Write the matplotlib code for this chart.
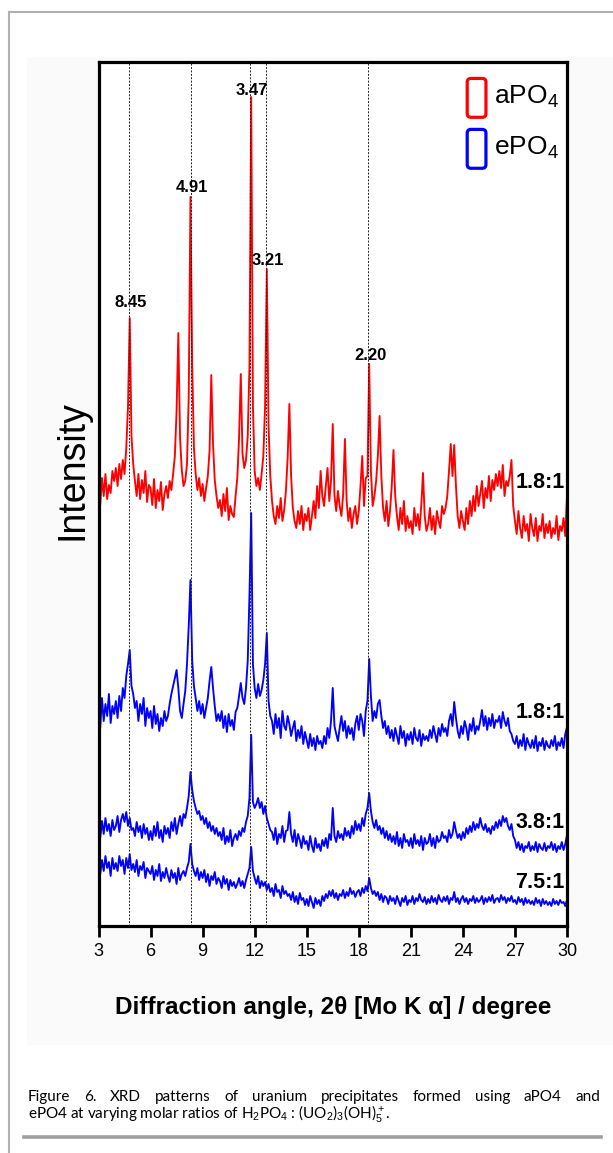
import numpy as np
import matplotlib
matplotlib.use('Agg')
from matplotlib import pyplot as plt
from matplotlib.patches import FancyBboxPatch, Rectangle
from matplotlib.lines import Line2D

plt.rcParams['font.family'] = ['Liberation Sans', 'DejaVu Sans']
plt.rcParams['mathtext.fontset'] = 'custom'
plt.rcParams['mathtext.rm'] = 'Liberation Sans'
plt.rcParams['mathtext.it'] = 'Liberation Sans:italic'
plt.rcParams['mathtext.bf'] = 'Liberation Sans:bold'

# scan positions, 2theta in degrees (Mo K alpha), 0.1 deg step
two_theta = np.round(np.arange(3.0, 30.05, 0.1), 1)

# stacked intensities (arbitrary units, offset per pattern), one row per degree
red_18 = [
    436, 421, 448, 430, 452, 427, 441, 433, 455, 445,   # 3
    458, 440, 462, 447, 466, 452, 478, 520, 608, 490,   # 4
    462, 445, 430, 452, 427, 446, 433, 455, 424, 441,   # 5
    438, 421, 447, 418, 436, 425, 444, 416, 432, 440,   # 6
    428, 445, 436, 452, 470, 515, 593, 488, 456, 440,   # 7
    445, 462, 530, 729, 560, 478, 452, 436, 448, 430,   # 8
    442, 425, 438, 450, 475, 551, 482, 446, 430, 418,   # 9
    426, 410, 432, 415, 438, 406, 420, 412, 409, 430,   # 10
    448, 488, 552, 472, 458, 466, 490, 560, 829, 520,   # 11
    455, 440, 448, 436, 452, 470, 520, 657, 500, 450,   # 12
    425, 410, 402, 420, 408, 428, 405, 416, 435, 468,   # 13
    522, 450, 418, 405, 398, 415, 402, 420, 396, 412,   # 14
    405, 418, 396, 410, 425, 408, 440, 418, 455, 430,   # 15
    420, 440, 458, 425, 445, 502, 430, 415, 435, 420,   # 16
    410, 432, 487, 425, 405, 418, 398, 412, 420, 402,   # 17
    415, 440, 470, 420, 448, 450, 562, 455, 420, 430,   # 18
    445, 470, 510, 450, 418, 405, 425, 400, 415, 440,   # 19
    476, 430, 410, 396, 418, 402, 425, 395, 410, 398,   # 20
    405, 392, 418, 400, 412, 396, 420, 453, 410, 395,   # 21
    402, 418, 396, 410, 392, 415, 405, 398, 420, 412,   # 22
    418, 430, 455, 482, 450, 481, 440, 410, 398, 415,   # 23
    405, 396, 418, 402, 425, 410, 430, 415, 440, 420,   # 24
    432, 445, 418, 438, 428, 450, 425, 446, 436, 452,   # 25
    440, 455, 438, 461, 430, 445, 440, 450, 466, 420,   # 26
    405, 392, 415, 398, 388, 410, 395, 402, 385, 412,   # 27
    398, 390, 408, 385, 400, 395, 412, 388, 402, 393,   # 28
    405, 388, 398, 392, 410, 386, 400, 395, 408, 390,   # 29
    430]

blue_18 = [
    215, 198, 228, 205, 222, 210, 232, 203, 220, 212,
    225, 208, 230, 215, 238, 228, 250, 262, 276, 240,
    232, 218, 225, 205, 222, 212, 228, 200, 218, 208,
    215, 198, 220, 202, 212, 195, 208, 200, 215, 205,
    210, 222, 232, 240, 248, 256, 238, 215, 208, 222,
    235, 262, 300, 346, 265, 240, 228, 215, 225, 212,
    222, 208, 218, 228, 245, 259, 238, 220, 205, 212,
    205, 215, 198, 210, 194, 212, 200, 206, 196, 214,
    218, 230, 243, 228, 222, 238, 265, 330, 413, 262,
    238, 228, 242, 230, 236, 246, 262, 293, 225, 210,
    205, 192, 212, 198, 208, 188, 215, 200, 196, 210,
    202, 190, 198, 205, 185, 196, 188, 200, 182, 194,
    186, 178, 192, 180, 188, 176, 190, 182, 185, 178,
    190, 182, 198, 188, 205, 238, 200, 192, 185, 198,
    210, 195, 205, 188, 200, 192, 198, 186, 202, 210,
    196, 212, 205, 190, 215, 225, 267, 230, 205, 215,
    208, 222, 226, 210, 198, 205, 192, 200, 188, 196,
    185, 198, 190, 182, 200, 188, 195, 180, 192, 186,
    194, 182, 198, 188, 185, 196, 180, 192, 186, 190,
    185, 196, 188, 200, 192, 184, 198, 190, 202, 194,
    198, 190, 205, 212, 200, 224, 208, 195, 188, 200,
    192, 205, 198, 186, 202, 195, 208, 192, 200, 196,
    205, 216, 200, 210, 196, 208, 200, 212, 198, 206,
    204, 210, 198, 214, 205, 200, 208, 195, 192, 185,
    182, 190, 178, 186, 180, 192, 176, 188, 182, 178,
    186, 178, 190, 175, 184, 180, 188, 176, 185, 180,
    178, 186, 180, 190, 176, 184, 180, 188, 178, 192,
    199]

blue_38 = [
    98, 88, 105, 92, 108, 95, 102, 90, 106, 96,
    100, 110, 94, 106, 112, 104, 114, 100, 108, 96,
    98, 90, 104, 94, 100, 88, 102, 92, 98, 86,
    95, 86, 100, 90, 104, 88, 96, 84, 100, 92,
    98, 88, 104, 95, 108, 92, 102, 110, 100, 112,
    108, 118, 130, 154, 136, 125, 118, 112, 115, 106,
    110, 102, 108, 98, 104, 95, 100, 92, 98, 90,
    94, 86, 98, 82, 90, 84, 96, 80, 88, 92,
    86, 95, 90, 98, 94, 104, 110, 128, 191, 124,
    118, 122, 128, 118, 124, 112, 120, 108, 102, 96,
    94, 86, 98, 82, 92, 88, 100, 84, 95, 96,
    114, 92, 84, 96, 80, 92, 86, 78, 90, 82,
    85, 76, 90, 80, 74, 88, 78, 82, 75, 86,
    80, 88, 78, 92, 86, 118, 90, 84, 95, 88,
    92, 86, 98, 90, 95, 88, 100, 92, 105, 96,
    102, 95, 108, 100, 112, 118, 133, 115, 104, 98,
    106, 96, 100, 92, 98, 88, 95, 86, 92, 84,
    90, 82, 94, 80, 88, 78, 92, 84, 86, 80,
    88, 78, 92, 82, 86, 80, 90, 76, 88, 82,
    84, 92, 80, 88, 78, 90, 84, 86, 94, 88,
    90, 84, 96, 88, 92, 104, 95, 88, 92, 86,
    94, 88, 98, 92, 100, 94, 104, 96, 102, 98,
    108, 100, 96, 102, 94, 98, 92, 100, 96, 104,
    98, 106, 100, 110, 104, 108, 100, 96, 102, 90,
    86, 78, 84, 76, 82, 74, 80, 78, 84, 75,
    80, 76, 84, 74, 82, 78, 76, 83, 75, 80,
    78, 84, 76, 82, 74, 80, 77, 84, 76, 82,
    91]

blue_75 = [
    60, 52, 66, 55, 70, 58, 64, 50, 68, 57,
    63, 55, 70, 60, 66, 52, 68, 58, 72, 56,
    62, 54, 66, 50, 60, 56, 64, 48, 58, 55,
    52, 60, 46, 56, 50, 62, 45, 54, 48, 58,
    50, 44, 56, 48, 53, 42, 58, 46, 52, 55,
    50, 58, 64, 82, 62, 55, 50, 58, 46, 54,
    48, 56, 44, 52, 40, 50, 46, 54, 42, 48,
    45, 38, 50, 42, 47, 36, 46, 40, 44, 38,
    42, 48, 40, 45, 38, 46, 52, 58, 79, 55,
    48, 42, 50, 38, 45, 40, 44, 36, 42, 34,
    38, 30, 42, 34, 36, 28, 40, 32, 35, 30,
    32, 26, 34, 24, 30, 22, 33, 26, 28, 21,
    27, 20, 30, 24, 18, 28, 22, 26, 20, 30,
    25, 32, 28, 35, 30, 36, 28, 33, 26, 32,
    30, 36, 28, 34, 30, 38, 32, 35, 29, 34,
    36, 30, 38, 33, 40, 35, 48, 38, 32, 35,
    30, 34, 26, 32, 24, 30, 28, 22, 30, 25,
    28, 22, 30, 25, 20, 28, 24, 30, 21, 26,
    24, 30, 22, 28, 25, 32, 26, 24, 29, 22,
    27, 23, 30, 24, 28, 22, 31, 26, 24, 29,
    25, 30, 22, 28, 26, 34, 24, 28, 22, 27,
    30, 24, 28, 22, 27, 25, 30, 23, 28, 24,
    26, 30, 22, 28, 24, 29, 25, 31, 23, 27,
    28, 24, 31, 26, 29, 23, 28, 25, 30, 24,
    26, 22, 29, 24, 27, 21, 28, 23, 26, 22,
    25, 21, 28, 23, 26, 20, 27, 22, 25, 21,
    24, 20, 27, 22, 25, 21, 26, 23, 24, 20,
    26]

# d-spacings (angstrom) of the marked reflections and their 2theta
peak_d = ['8.45', '4.91', '3.47', '3.21', '2.20']
peak_2theta = [4.76, 8.31, 11.75, 12.67, 18.56]
peak_offset = [(1.5, 11.5), (1.2, 6.5), (1.0, 5.0), (1.0, 6.0), (1.2, 6.0)]

ratio_labels = ['1.8:1', '1.8:1', '3.8:1', '7.5:1']
ratio_y = [443, 213, 104, 43]

fig = plt.figure(figsize=(6.13, 11.53), dpi=100)
W, H = 613.0, 1153.0

# page decoration around the figure
fig.patches.append(Rectangle((27 / W, 1 - 1045 / H), 586 / W, 988 / H,
                             transform=fig.transFigure, facecolor='#fafafa',
                             edgecolor='none', zorder=-5))
fig.lines.append(Line2D([9 / W, 1.0], [1 - 12 / H, 1 - 12 / H], transform=fig.transFigure,
                        color='#b0b0b0', lw=1.5))
fig.lines.append(Line2D([9 / W, 9 / W], [0, 1 - 12 / H], transform=fig.transFigure,
                        color='#b0b0b0', lw=1.5))
fig.lines.append(Line2D([24 / W, 601 / W], [1 - 1137 / H, 1 - 1137 / H], transform=fig.transFigure,
                        color='#a0a0a0', lw=2.6))

ax = fig.add_axes([98.5 / W, 1 - 926 / H, 468.5 / W, 864 / H])
ax.set_facecolor('white')

series = [(red_18, '#ff0000'), (blue_18, '#0000ff'), (blue_38, '#0000ff'), (blue_75, '#0000ff')]
for values, color in series:
    ax.plot(two_theta, values, color=color, lw=1.35, zorder=2)

for p in peak_2theta:
    ax.axvline(p, color='#222222', lw=0.7, ls=(0, (2, 1.5)), zorder=3)

red = np.array(red_18)
for d, p, (dx, dy) in zip(peak_d, peak_2theta, peak_offset):
    top = red[np.abs(two_theta - p) <= 0.1].max()
    ax.annotate(d, (p, top), xytext=(dx, dy), textcoords='offset points',
                ha='center', va='center', fontsize=12, fontweight='bold')

for lab, y in zip(ratio_labels, ratio_y):
    ax.text(29.85, y, lab, ha='right', va='center', fontsize=15.5, fontweight='bold', zorder=4)

# legend drawn as tall rounded boxes
for y0, color, name in [(0.936, '#ff0000', 'aPO$_4$'), (0.877, '#0000ff', 'ePO$_4$')]:
    box = FancyBboxPatch((0.787, y0), 0.040, 0.045, transform=ax.transAxes,
                         boxstyle='round,pad=0,rounding_size=0.008', mutation_aspect=468.5 / 864,
                         facecolor='none', edgecolor=color, lw=2.3, zorder=5)
    ax.add_patch(box)
    ax.text(0.845, y0 + 0.024, name, transform=ax.transAxes, ha='left', va='center', fontsize=19)

ax.set_xlim(3, 30)
ax.set_ylim(0, 864)
ax.set_xticks(np.arange(3, 31, 3))
ax.set_yticks([])
ax.tick_params(axis='x', direction='out', length=8, width=2, pad=4, labelsize=13)
for s in ax.spines.values():
    s.set_linewidth(2.3)

ax.set_ylabel('Intensity', fontsize=27)
ax.yaxis.set_label_coords(-0.018, 0.528)
ax.set_xlabel('Diffraction angle, 2θ [Mo K α] / degree', fontsize=17.5, fontweight='bold')
ax.xaxis.set_label_coords(0.5, -0.0805)

# caption, first line justified between the margins
cap_font = ['Lato', 'DejaVu Sans']
line1 = 'Figure 6. XRD patterns of uranium precipitates formed using aPO4 and'
line2 = 'ePO4 at varying molar ratios of H$_2$PO$_4$ : (UO$_2$)$_3$(OH)$_5^+$.'
words = [fig.text(0, 1 - 1101 / H, w, fontsize=11, family=cap_font, va='baseline')
         for w in line1.split()]
fig.canvas.draw()
renderer = fig.canvas.get_renderer()
widths = [t.get_window_extent(renderer).width for t in words]
gap = (572 - sum(widths)) / (len(words) - 1)
x = 28.0
for t, w in zip(words, widths):
    t.set_x(x / W)
    x += w + gap
fig.text(28 / W, 1 - 1118 / H, line2, fontsize=11, family=cap_font, va='baseline')

fig.savefig('out.png', dpi=100, facecolor='white')
